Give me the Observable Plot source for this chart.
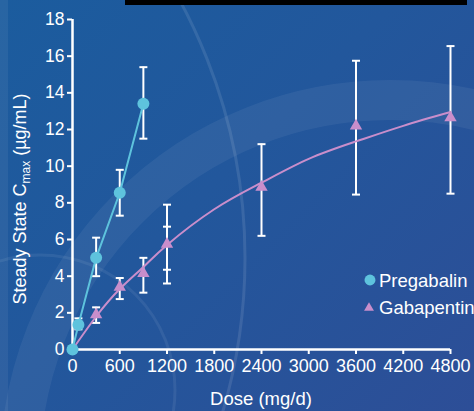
<!DOCTYPE html>
<html>
<head>
<meta charset="utf-8">
<script src="https://cdn.jsdelivr.net/npm/d3@7"></script>
<script src="https://cdn.jsdelivr.net/npm/@observablehq/plot@0.6"></script>
<style>
  html, body { margin: 0; padding: 0; }
  #wrap { position: relative; width: 474px; height: 411px; overflow: hidden;
    background: linear-gradient(135deg, #1b5c9e 0%, #22579c 45%, #2d4e97 100%); }
  #deco { position: absolute; left: 0; top: 0; }
  #chart { position: absolute; left: 0; top: 0; }
</style>
</head>
<body>
<div id="wrap">
  <svg id="deco" width="474" height="411">
    <rect x="0" y="0" width="8" height="411" fill="rgba(255,255,255,0.06)"></rect>
    <circle cx="390" cy="470" r="370" fill="none" stroke="rgba(255,255,255,0.06)" stroke-width="40"></circle>
    <circle cx="-296" cy="258" r="541" fill="none" stroke="rgba(255,255,255,0.10)" stroke-width="3"></circle>
    <circle cx="40" cy="390" r="135" fill="none" stroke="rgba(255,255,255,0.07)" stroke-width="3"></circle>
    <rect x="125" y="0" width="342" height="5" fill="#000"></rect>
  </svg>
  <div id="chart"></div>
</div>
<script>
// Tick values
const xTicks = [0, 600, 1200, 1800, 2400, 3000, 3600, 4200, 4800];
const yTicks = [0, 2, 4, 6, 8, 10, 12, 14, 16, 18];

// Pregabalin
const pregDose = [0, 75, 300, 600, 900];
const pregMean = [0, 1.35, 5.0, 8.55, 13.4];
const pregLow  = [null, 1.1, 4.0, 7.3, 11.5];
const pregHigh = [null, 1.7, 6.1, 9.8, 15.4];

// Gabapentin
const gabaDose = [300, 600, 900, 1200, 2400, 3600, 4800];
const gabaMean = [1.9, 3.4, 4.15, 5.75, 8.85, 12.2, 12.65];
const gabaLow  = [1.45, 2.75, 3.1, 3.6, 6.2, 8.45, 8.5];
const gabaHigh = [2.3, 3.9, 5.0, 7.9, 11.2, 15.75, 16.55];
// second (inner) error bar at 1200 mg/d
const gabaInnerDose = [1200];
const gabaInnerLow  = [4.35];
const gabaInnerHigh = [6.7];

// Gabapentin fitted curve
const curveDose  = [0, 300, 600, 900, 1200, 1800, 2400, 3000, 3600, 4200, 4800];
const curveValue = [0, 1.8, 3.3, 4.5, 5.7, 7.65, 9.1, 10.4, 11.35, 12.2, 12.95];

const pregColor = "#5ec3dd";
const gabaColor = "#c98ecb";

const preg = pregDose.map((d, i) => ({dose: d, mean: pregMean[i], lo: pregLow[i], hi: pregHigh[i]}));
const gaba = gabaDose.map((d, i) => ({dose: d, mean: gabaMean[i], lo: gabaLow[i], hi: gabaHigh[i]}));
const gabaInner = gabaInnerDose.map((d, i) => ({dose: d, lo: gabaInnerLow[i], hi: gabaInnerHigh[i]}));
const curve = curveDose.map((d, i) => ({dose: d, v: curveValue[i]}));

const bars = [...preg.filter(d => d.lo != null), ...gaba];
const caps = [];
for (const d of [...bars, ...gabaInner]) { caps.push({dose: d.dose, v: d.lo}); caps.push({dose: d.dose, v: d.hi}); }

const capSymbol = { draw(ctx, size) { ctx.moveTo(-4, 0); ctx.lineTo(4, 0); } };

const font = "'Liberation Sans', Arial, sans-serif";

const chart = Plot.plot({
  width: 474, height: 411,
  marginLeft: 72, marginRight: 24, marginTop: 19, marginBottom: 62,
  style: {background: "transparent", color: "white", fontSize: "17px", fontFamily: font},
  x: {domain: [0, 4800], label: null},
  y: {domain: [0, 18], label: null},
  marks: [
    Plot.axisX({ticks: xTicks, tickSize: 5, tickPadding: 5, tickFormat: d => String(d), stroke: "white", strokeWidth: 2, fontSize: 18, label: null}),
    Plot.axisY({ticks: yTicks, tickSize: 5, tickPadding: 3, tickFormat: d => String(d), stroke: "white", strokeWidth: 2, fontSize: 17.5, label: null}),
    Plot.ruleY([0], {stroke: "white", strokeWidth: 2.5}),
    Plot.ruleX([0], {stroke: "white", strokeWidth: 2.5}),
    Plot.ruleX(bars, {x: "dose", y1: "lo", y2: "hi", stroke: "white", strokeWidth: 2}),
    Plot.dot(caps, {x: "dose", y: "v", symbol: capSymbol, r: 4, stroke: "white", strokeWidth: 2, fill: "none"}),
    Plot.line(curve, {x: "dose", y: "v", curve: "natural", stroke: gabaColor, strokeWidth: 2}),
    Plot.line(preg, {x: "dose", y: "mean", stroke: pregColor, strokeWidth: 2}),
    Plot.dot(gaba, {x: "dose", y: "mean", symbol: "triangle", r: 4.6, fill: gabaColor, stroke: "none"}),
    Plot.dot(preg, {x: "dose", y: "mean", symbol: "circle", r: 6, fill: pregColor, stroke: "none"})
  ]
});
document.getElementById("chart").appendChild(chart);

const svg = d3.select(chart);
// Y axis label with subscript
const yl = svg.append("text")
  .attr("transform", "translate(26,199) rotate(-90)")
  .attr("text-anchor", "middle")
  .attr("fill", "white")
  .style("font-family", font)
  .style("font-size", "18px");
yl.append("tspan").text("Steady State C");
yl.append("tspan").attr("dy", 4).style("font-size", "12px").text("max");
yl.append("tspan").attr("dy", -4).text(" (µg/mL)");

// X axis label
svg.append("text")
  .attr("x", 261).attr("y", 405)
  .attr("text-anchor", "middle")
  .attr("fill", "white")
  .style("font-family", font)
  .style("font-size", "18.5px")
  .text("Dose (mg/d)");

// Legend
const legend = [
  {name: "Pregabalin", symbol: d3.symbolCircle, color: pregColor, size: Math.PI * 30, cx: 370, cy: 280, ty: 287},
  {name: "Gabapentin", symbol: d3.symbolTriangle, color: gabaColor, size: 42, cx: 369, cy: 308, ty: 314}
];
for (const l of legend) {
  svg.append("path")
    .attr("d", d3.symbol(l.symbol, l.size)())
    .attr("transform", `translate(${l.cx},${l.cy})`)
    .attr("fill", l.color);
  svg.append("text")
    .attr("x", 379).attr("y", l.ty)
    .attr("text-anchor", "start")
    .attr("fill", "white")
    .style("font-family", font)
    .style("font-size", "18.5px")
    .text(l.name);
}
</script>
</body>
</html>
